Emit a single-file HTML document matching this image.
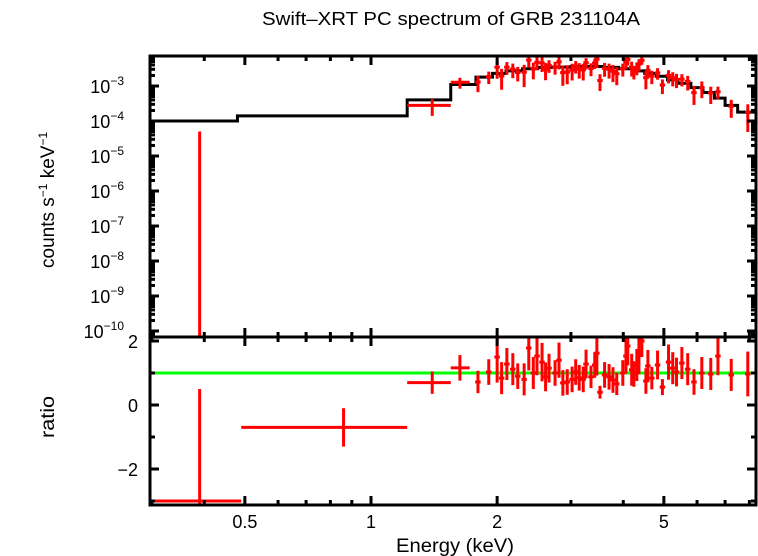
<!DOCTYPE html>
<html><head><meta charset="utf-8"><style>
html,body{margin:0;padding:0;background:#fff;}
svg{display:block;font-family:"Liberation Sans",sans-serif;}
</style></head><body>
<svg id="c" width="758" height="556" viewBox="0 0 758 556">
<text x="262" y="25" font-size="18" textLength="378" lengthAdjust="spacingAndGlyphs">Swift–XRT PC spectrum of GRB 231104A</text>
<g id="g"></g>
<text x="396" y="552" font-size="19" textLength="118" lengthAdjust="spacingAndGlyphs">Energy (keV)</text>
<text transform="translate(54,268) rotate(-90)" font-size="19">counts s<tspan dy="-7" font-size="12">−1</tspan><tspan dy="7"> keV</tspan><tspan dy="-7" font-size="12">−1</tspan></text>
<text transform="translate(54,438) rotate(-90)" font-size="19" textLength="42" lengthAdjust="spacingAndGlyphs">ratio</text>
</svg>
<script>
// model step function (bin edges in keV, values in counts/s/keV)
const modelEdges = [0.297,0.48,1.22,1.55,1.78,1.95,2.1,2.3,2.5,2.7,3.0,3.3,3.6,3.9,4.2,4.5,4.8,5.1,5.4,5.8,6.2,6.6,7.0,7.5,8.3];
const modelValues = [1e-4,1.4e-4,4e-4,1.1e-3,1.8e-3,2.3e-3,2.7e-3,3.1e-3,3.4e-3,3.5e-3,3.6e-3,3.6e-3,3.4e-3,3.1e-3,2.7e-3,2.3e-3,1.9e-3,1.5e-3,1.2e-3,9e-4,6.5e-4,4.5e-4,2.8e-4,1.8e-4,8e-5];
// wide low-energy bins
const wideLo = [0.297,0.49,1.22,1.55];
const wideHi = [0.49,1.22,1.55,1.72];
const wideE = [0.39,0.86,1.40,1.63];
const wideRatio = [-3.0,-0.7,0.7,1.16];
const wideErr = [3.5,0.6,0.35,0.4];
// narrow bins
const energies = [1.80,1.91,2.0,2.05,2.11,2.18,2.24,2.32,2.38,2.44,2.49,2.56,2.61,2.66,2.75,2.81,2.87,2.94,3.02,3.08,3.14,3.21,3.26,3.35,3.42,3.46,3.52,3.61,3.70,3.78,3.86,3.99,4.06,4.10,4.19,4.24,4.31,4.36,4.43,4.53,4.58,4.68,4.83,4.96,5.13,5.25,5.36,5.52,5.70,5.90,6.16,6.47,6.73,7.24,7.93];
const ratios = [0.72,1.03,1.5,0.84,1.28,1.12,0.9,0.8,1.78,1.0,1.53,1.34,0.88,1.15,1.0,1.4,0.69,0.72,0.8,1.03,0.85,0.8,1.28,0.88,1.25,1.62,0.4,0.94,0.88,0.78,0.66,1.0,1.53,1.84,1.1,0.97,1.25,1.56,2.0,0.75,1.22,0.84,1.25,0.56,1.34,1.15,1.03,1.31,1.12,0.72,1.0,0.97,1.53,0.94,0.97];
const ratioErrs = [0.35,0.4,0.8,0.5,0.5,0.5,0.4,0.5,0.7,0.5,0.6,0.6,0.45,0.45,0.4,0.55,0.4,0.4,0.4,0.4,0.4,0.4,0.45,0.35,0.4,0.7,0.2,0.4,0.4,0.4,0.35,0.4,0.55,0.6,0.5,0.4,0.5,0.6,0.5,0.4,0.5,0.35,0.45,0.25,0.55,0.5,0.45,0.5,0.5,0.4,0.5,0.5,0.6,0.5,0.7];
const xTicksMajor = [0.5,1,2,5];
const xTickLabels = ["0.5","1","2","5"];
const ratioTicks = [2,0,-2];
const ratioTickLabels = ["2","0","−2"];
const decades = [-3,-4,-5,-6,-7,-8,-9,-10];

const L=150,R=756,T1=56,B1=337,T2=337,B2=505;
const X=e=>371+Math.log10(e)*419;
const Y1=v=>86+(-3-Math.log10(v))*35;
const Y2=r=>405-r*32;
const g=document.getElementById('g');
const NS='http://www.w3.org/2000/svg';
function el(t,a,p){const e=document.createElementNS(NS,t);for(const k in a)e.setAttribute(k,a[k]);(p||g).appendChild(e);return e;}
function modelAt(E){for(let i=0;i<modelValues.length;i++){if(E<modelEdges[i+1])return modelValues[i];}return modelValues[modelValues.length-1];}
const cl1=y=>Math.max(T1,Math.min(B1,y)), cl2=y=>Math.max(T2,Math.min(B2,y));

let d='';
for(let i=0;i<modelValues.length;i++){const y=Y1(modelValues[i]);d+=(i?'L':'M')+X(modelEdges[i])+','+y+'L'+Math.min(R,X(modelEdges[i+1]))+','+y;}
const mp=el('path',{d:d,fill:'none',stroke:'#000','stroke-width':3});


const gl=el('line',{x1:L,x2:R,y1:Y2(1),y2:Y2(1),stroke:'#00ff00','stroke-width':3});



function point(E,lo,hi,r,er,i){
  const m=modelAt(E);
  const gp=el('g',{stroke:'#ff0000','stroke-width':3,fill:'none'});
  
  
  const x=X(E),x1=Math.max(L,X(lo)),x2=Math.min(R,X(hi));
  const v=r*m,vt=(r+er)*m,vb=(r-er)*m;
  if(vt>0){
    const yt=cl1(Y1(vt)),yb=vb>0?cl1(Y1(vb)):B1;
    el('line',{x1:x,x2:x,y1:yt,y2:yb},gp);
    if(v>0){const yv=Y1(v);if(yv>=T1&&yv<=B1)el('line',{x1:x1,x2:x2,y1:yv,y2:yv},gp);}
  }
  const ry=Y2(r);
  el('line',{x1:x,x2:x,y1:cl2(Y2(r+er)),y2:cl2(Y2(r-er))},gp);
  if(ry>=T2&&ry<=B2)el('line',{x1:x1,x2:x2,y1:ry,y2:ry},gp);
}
for(let i=0;i<wideE.length;i++)point(wideE[i],wideLo[i],wideHi[i],wideRatio[i],wideErr[i],i);
for(let i=0;i<energies.length;i++)point(energies[i],energies[i]*0.985,energies[i]*1.015,ratios[i],ratioErrs[i],i+4);

for(const [t,b,n] of [[T1,B1,'top-panel-frame'],[T2,B2,'ratio-panel-frame']]){
  const f=el('rect',{x:L,y:t,width:R-L,height:b-t,fill:'none',stroke:'#000','stroke-width':3});
  
  
}
const ax=el('g',{stroke:'#000','stroke-width':3});


const minorX=[0.3,0.4,0.6,0.7,0.8,0.9,3,4,6,7,8];
for(const e of minorX.concat(xTicksMajor)){const x=X(e),len=xTicksMajor.includes(e)?9:5;
  for(const [t,b] of [[T1,B1],[T2,B2]]){el('line',{x1:x,x2:x,y1:t,y2:t+len},ax);el('line',{x1:x,x2:x,y1:b,y2:b-len},ax);}}
xTicksMajor.forEach((e,i)=>{const t=el('text',{x:X(e),y:528,'font-size':18,'text-anchor':'middle'});t.textContent=xTickLabels[i];
  
  });
const ay=el('g',{stroke:'#000','stroke-width':3});


for(let k=-11;k<=-2;k++){for(let m=1;m<10;m++){const y=Y1(m*Math.pow(10,k));if(y<T1||y>B1)continue;const len=m==1?9:5;
  el('line',{x1:L,x2:L+len,y1:y,y2:y},ay);el('line',{x1:R,x2:R-len,y1:y,y2:y},ay);}}
decades.forEach(k=>{const y=Y1(Math.pow(10,k));
  const t=el('text',{x:124,y:y+7,'font-size':18,'text-anchor':'end'});
  
  
  t.innerHTML='10<tspan dy="-8" font-size="12">'+(k<0?'−':'')+Math.abs(k)+'</tspan>';});
[-3,-2,-1,0,1,2].forEach(r=>{const y=Y2(r);const len=ratioTicks.includes(r)?9:5;
  el('line',{x1:L,x2:L+len,y1:y,y2:y},ay);el('line',{x1:R,x2:R-len,y1:y,y2:y},ay);});
ratioTicks.forEach((r,i)=>{const t=el('text',{x:138,y:Y2(r)+7,'font-size':18,'text-anchor':'end'});t.textContent=ratioTickLabels[i];
  
  });
</script>
</body></html>
